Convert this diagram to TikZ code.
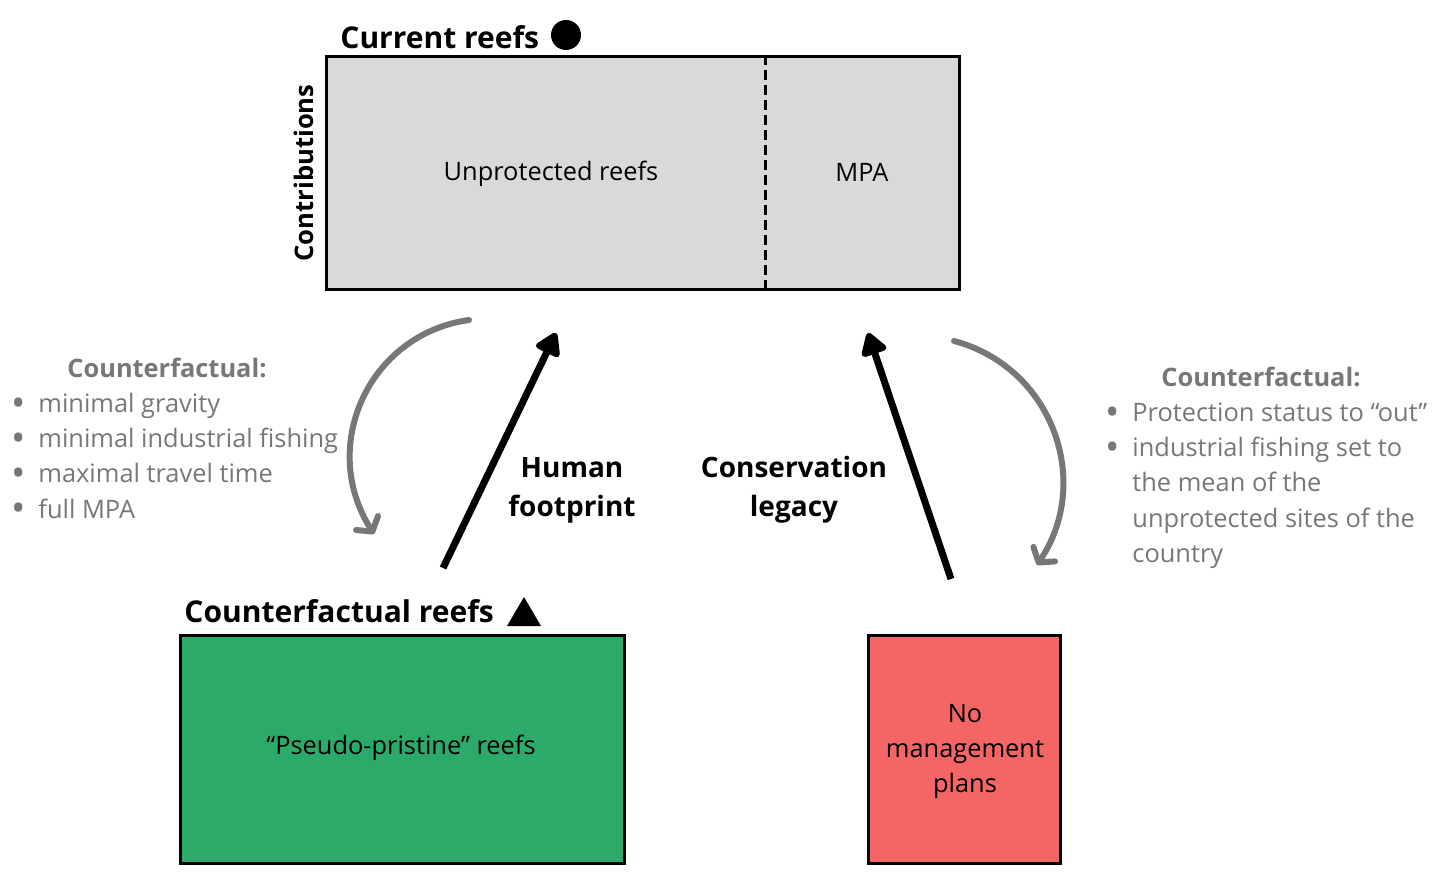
\documentclass[tikz,border=0pt]{standalone}
\usepackage{fontspec}
\setmainfont{Open Sans}
\usetikzlibrary{arrows.meta}

\definecolor{panelgray}{HTML}{D9D9D9}
\definecolor{reefgreen}{HTML}{2CAA6A}
\definecolor{nored}{HTML}{F46565}
\definecolor{notegray}{HTML}{777777}

\newcommand{\dotmark}{\raisebox{-0.12em}{\scalebox{1.5}{•}}}

\tikzset{
  panel/.style={draw=black, line width=1.5pt, inner sep=0pt},
  heading/.style={font=\fontsize{14}{19.5}\selectfont\bfseries, align=center},
  title/.style={font=\fontsize{15}{19.5}\selectfont\bfseries, anchor=base west, inner sep=0pt},
  plain/.style={font=\fontsize{12.7}{17.5}\selectfont, align=center},
  note/.style={font=\fontsize{12.7}{17.5}\selectfont, text=notegray, anchor=base west, inner sep=0pt},
  notehead/.style={font=\fontsize{12.7}{17.5}\selectfont\bfseries, text=notegray, anchor=base, inner sep=0pt},
  effect/.style={line width=3.5pt, -{Triangle[round, length=12.5pt, width=14.5pt]}},
  swap/.style={draw=notegray, line width=3pt, line cap=round, -{Straight Barb[round, length=5pt, width=13pt]}},
}

\begin{document}
\begin{tikzpicture}[x=0.5pt, y=-0.5pt]
\useasboundingbox (0,0) rectangle (1439,892);

% Current reefs
\node[panel, fill=panelgray, minimum width=316.5pt, minimum height=116.5pt] (current) at (642.5,173.5) {};
\draw[line width=1.5pt, dash pattern=on 5pt off 2.5pt] (current.north -| 765,0) -- (current.south -| 765,0);
\node[plain] (unprot) at (551,174) {Unprotected reefs};
\node[plain] (mpa) at (862,172) {MPA};
\node[heading, font=\fontsize{12.8}{18}\selectfont\bfseries, rotate=90] (contrib) at (304,173) {Contributions};
\node[title] (currenttitle) at (340,49) {Current reefs};
\fill (566,35) circle (15);

% Counterfactual reefs
\node[panel, fill=reefgreen, minimum width=222pt, minimum height=114pt] (pristine) at (402,749) {};
\node[plain] (pristinetext) at (401,748) {“Pseudo-pristine” reefs};
\node[title] (cftitle) at (184,622) {Counterfactual reefs};
\fill (507,626) -- (541,626) -- (524,597) -- cycle;

% No management
\node[panel, fill=nored, minimum width=96pt, minimum height=114pt] (nomgmt) at (964,749) {};
\node[plain] (nomgmttext) at (965,751) {No\\management\\plans};

% Effects
\coordinate (hfstart) at (443,568);
\coordinate (hfend) at (556,333);
\coordinate (clstart) at (951,579);
\coordinate (clend) at (868,333);
\draw[effect] (hfstart) -- (hfend);
\draw[effect] (clstart) -- (clend);
\node[heading] (human) at (572,490) {Human\\footprint};
\node[heading] (legacy) at (794,490) {Conservation\\legacy};

% Counterfactual arcs
\coordinate (lfrom) at (469,320);
\coordinate (lto) at (374,534);
\coordinate (rfrom) at (954,341);
\coordinate (rto) at (1037,565);
\draw[swap] (lfrom) .. controls (369,334) and (318,446) .. (lto);
\draw[swap] (rfrom) .. controls (1052,367) and (1093,481) .. (rto);

% Left notes
\node[notehead] (lefthead) at (167,378) {Counterfactual:};
\foreach \txt [count=\i] in {minimal gravity, minimal industrial fishing, maximal travel time, full MPA}
  \node[note] (left\i) at (11,378+35*\i) {\makebox[13.5pt][l]{\dotmark}\txt};

% Right notes
\node[notehead] (righthead) at (1261,387) {Counterfactual:};
\foreach \txt/\mark [count=\i] in {Protection status to “out”/\dotmark, industrial fishing set to/\dotmark, the mean of the/{}, unprotected sites of the/{}, country/{}}
  \node[note] (right\i) at (1105,387+35*\i) {\makebox[13.5pt][l]{\mark}\txt};

\end{tikzpicture}
\end{document}
